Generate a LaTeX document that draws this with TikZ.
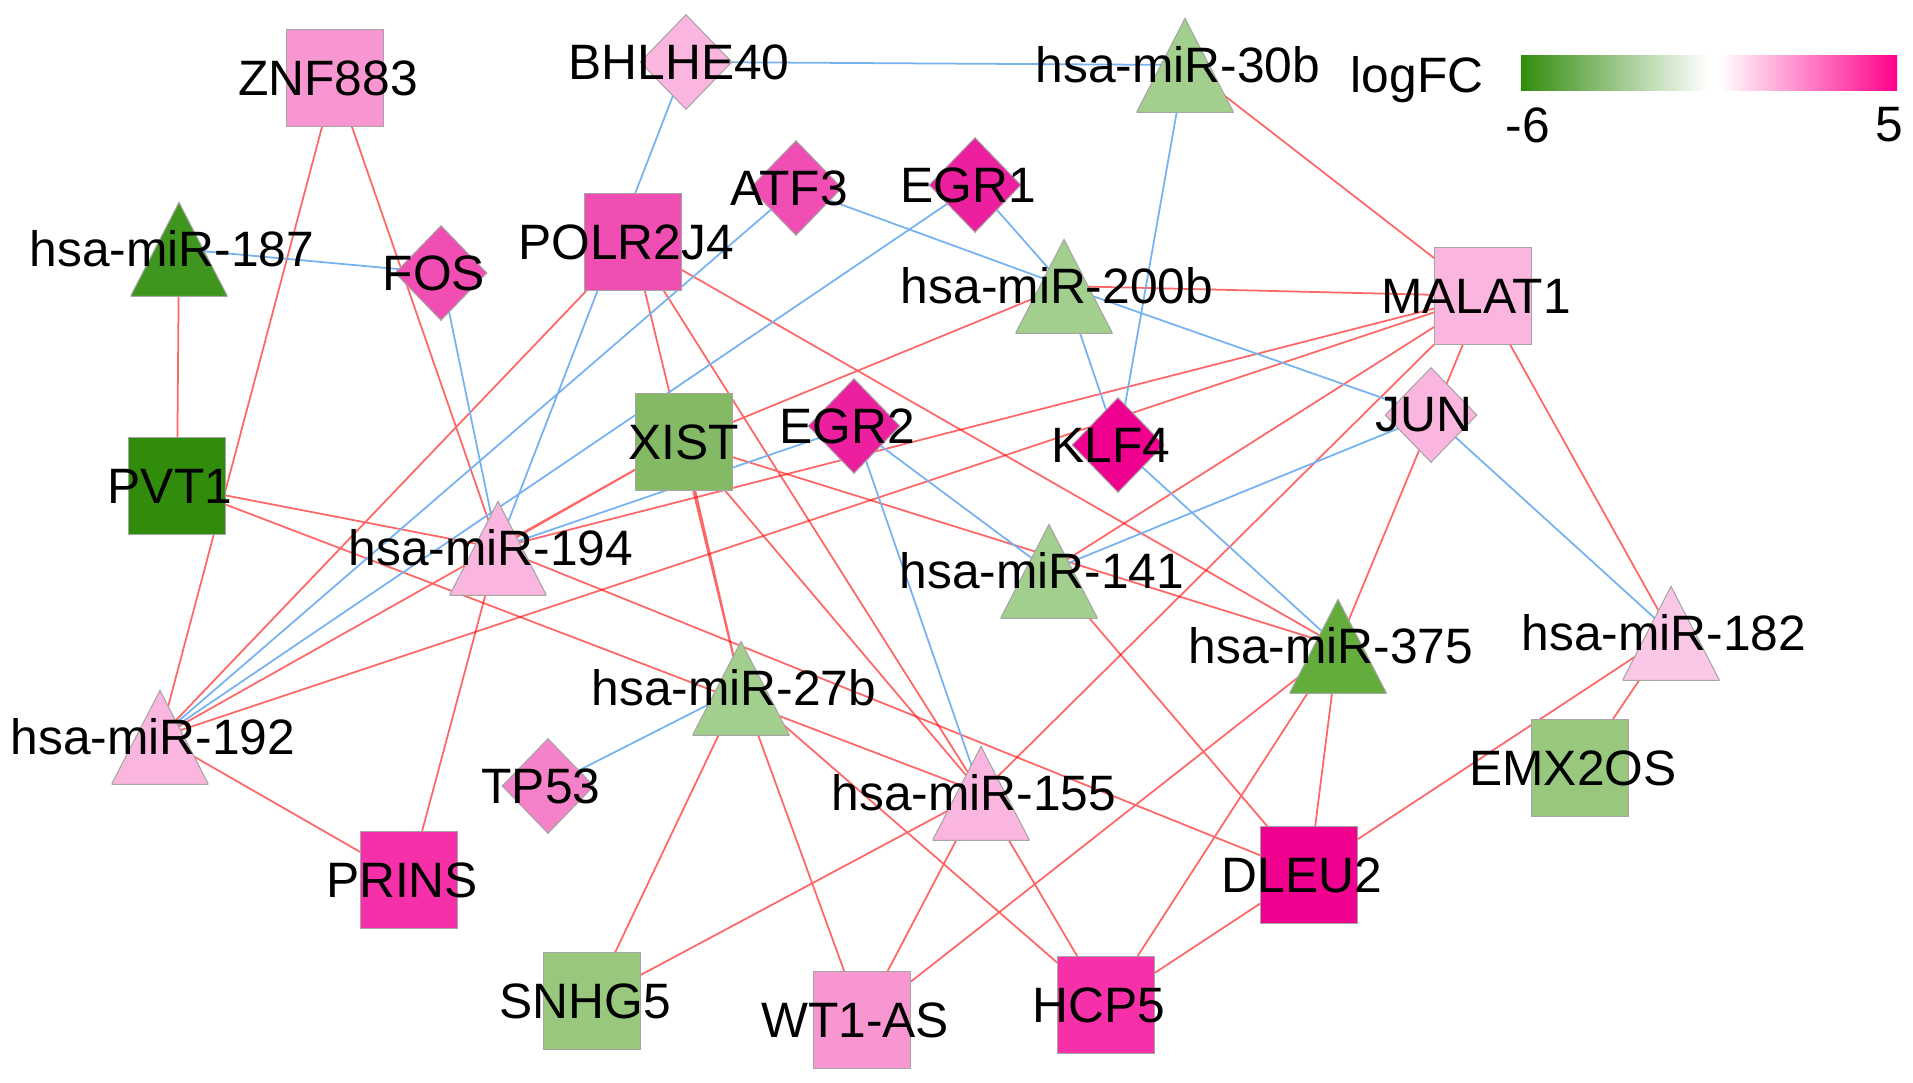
\documentclass[tikz,border=0pt]{standalone}
\usepackage{fontspec}
\setmainfont{Liberation Sans}
\usetikzlibrary{shapes.geometric,backgrounds}

\definecolor{pinkA}{RGB}{250,200,230}
\definecolor{pinkB}{RGB}{250,182,222}
\definecolor{pinkC}{RGB}{248,150,210}
\definecolor{pinkD}{RGB}{245,130,200}
\definecolor{pinkE}{RGB}{240,78,178}
\definecolor{pinkF}{RGB}{246,48,168}
\definecolor{pinkG}{RGB}{236,32,158}
\definecolor{pinkH}{RGB}{240,0,142}
\definecolor{greenA}{RGB}{162,206,142}
\definecolor{greenB}{RGB}{132,186,102}
\definecolor{greenF}{RGB}{152,200,126}
\definecolor{greenC}{RGB}{100,172,60}
\definecolor{greenD}{RGB}{62,150,30}
\definecolor{greenE}{RGB}{50,140,12}
\definecolor{nodeline}{RGB}{165,165,165}
\definecolor{edgeblue}{RGB}{118,178,240}
\definecolor{barpink}{RGB}{255,0,140}

\begin{document}
\begin{tikzpicture}[x=0.02cm,y=-0.02cm]
  \tikzset{lab/.style={font=\fontsize{28.3}{33}\selectfont,inner sep=0pt,xshift=-0.14cm}}
  \tikzset{sq/.style={rectangle,minimum size=1.94cm,inner sep=0pt,fill=#1,draw=nodeline,line width=.6pt}}
  \tikzset{dia/.style={diamond,minimum width=1.84cm,minimum height=1.9cm,inner sep=0pt,fill=#1,draw=nodeline,line width=.6pt}}
  \tikzset{tri/.style={rectangle,minimum width=1.94cm,minimum height=1.92cm,inner sep=0pt,
    path picture={\fill[#1,draw=nodeline,line width=.6pt]
      ([yshift=.4pt]path picture bounding box.south west) -- ([yshift=.4pt]path picture bounding box.south east)
      -- ([yshift=-.8pt]path picture bounding box.north) -- cycle;}}}
  \tikzset{redge/.style={draw=red,draw opacity=.6,line width=1pt}}
  \tikzset{bedge/.style={draw=edgeblue,line width=1pt}}
  \useasboundingbox (0,0) rectangle (1913,1082);

  % lncRNA
  \node(znf883)[sq=pinkC,label={[lab]center:ZNF883}] at (335,78) {};
  \node(polr2j4)[sq=pinkE,label={[lab]center:POLR2J4}] at (633,242) {};
  \node(malat1)[sq=pinkB,label={[lab]center:MALAT1}] at (1483,296) {};
  \node(pvt1)[sq=greenE,label={[lab]center:PVT1}] at (177,486) {};
  \node(xist)[sq=greenB,label={[lab,xshift=0.14cm]center:XIST}] at (684,442) {};
  \node(prins)[sq=pinkF,label={[lab]center:PRINS}] at (409,880) {};
  \node(emx2os)[sq=greenF,label={[lab]center:EMX2OS}] at (1580,768) {};
  \node(dleu2)[sq=pinkH,label={[lab]center:DLEU2}] at (1309,875) {};
  \node(snhg5)[sq=greenF,label={[lab]center:SNHG5}] at (592,1001) {};
  \node(wt1as)[sq=pinkC,label={[lab]center:WT1-AS}] at (862,1020) {};
  \node(hcp5)[sq=pinkF,label={[lab]center:HCP5}] at (1106,1005) {};
  % mRNA
  \node(bhlhe40)[dia=pinkB,label={[lab]center:BHLHE40}] at (686,62) {};
  \node(fos)[dia=pinkE,label={[lab]center:FOS}] at (441,273) {};
  \node(atf3)[dia=pinkE,label={[lab]center:ATF3}] at (796,188) {};
  \node(egr1)[dia=pinkG,label={[lab]center:EGR1}] at (975,185) {};
  \node(egr2)[dia=pinkG,label={[lab]center:EGR2}] at (854,426) {};
  \node(klf4)[dia=pinkH,label={[lab]center:KLF4}] at (1118,445) {};
  \node(jun)[dia=pinkB,label={[lab]center:JUN}] at (1431,415) {};
  \node(tp53)[dia=pinkD,label={[lab]center:TP53}] at (548,786) {};
  % miRNA
  \node(mir30b)[tri=greenA,label={[lab]center:hsa-miR-30b}] at (1185,65) {};
  \node(mir187)[tri=greenD,label={[lab]center:hsa-miR-187}] at (179,249) {};
  \node(mir200b)[tri=greenA,label={[lab]center:hsa-miR-200b}] at (1064,286) {};
  \node(mir194)[tri=pinkB,label={[lab]center:hsa-miR-194}] at (498,548) {};
  \node(mir141)[tri=greenA,label={[lab]center:hsa-miR-141}] at (1049,571) {};
  \node(mir375)[tri=greenC,label={[lab]center:hsa-miR-375}] at (1338,646) {};
  \node(mir182)[tri=pinkA,label={[lab]center:hsa-miR-182}] at (1671,633) {};
  \node(mir192)[tri=pinkB,label={[lab]center:hsa-miR-192}] at (160,737) {};
  \node(mir27b)[tri=greenA,label={[lab]center:hsa-miR-27b}] at (741,688) {};
  \node(mir155)[tri=pinkB,label={[lab]center:hsa-miR-155}] at (981,793) {};

  % logFC legend
  \node(lgdname)[lab] at (1424,80) {logFC};
  \shade[left color=greenE,right color=white] (1521,55) rectangle (1708,90);
  \shade[left color=white,right color=barpink] (1720,55) rectangle (1897,90);
  \node(lgdmin)[lab] at (1535,125) {-6};
  \node(lgdmax)[lab] at (1896,125) {5};

  \begin{pgfonlayer}{background}
  \draw[redge] (znf883.center) -- (mir192.center) (znf883.center) -- (mir194.center)
    (pvt1.center) -- (mir187.center) (pvt1.center) -- (mir194.center) (pvt1.center) -- (mir155.center)
    (polr2j4.center) -- (mir192.center) (polr2j4.center) -- (mir27b.center)
    (polr2j4.center) -- (mir155.center) (polr2j4.center) -- (mir375.center)
    (xist.center) -- (mir194.center) (xist.center) -- (mir192.center) (xist.center) -- (mir27b.center)
    (xist.center) -- (mir155.center) (xist.center) -- (mir375.center) (xist.center) -- (mir200b.center);
  \draw[redge] (malat1.center) -- (mir30b.center) (malat1.center) -- (mir200b.center)
    (malat1.center) -- (mir194.center) (malat1.center) -- (mir192.center)
    (malat1.center) -- (mir141.center) (malat1.center) -- (mir155.center)
    (malat1.center) -- (mir375.center) (malat1.center) -- (mir182.center);
  \draw[redge] (prins.center) -- (mir192.center) (prins.center) -- (mir194.center)
    (snhg5.center) -- (mir27b.center) (snhg5.center) -- (mir155.center)
    (wt1as.center) -- (mir27b.center) (wt1as.center) -- (mir155.center) (wt1as.center) -- (mir375.center)
    (hcp5.center) -- (mir27b.center) (hcp5.center) -- (mir155.center)
    (hcp5.center) -- (mir375.center) (hcp5.center) -- (mir182.center)
    (dleu2.center) -- (mir194.center) (dleu2.center) -- (mir141.center) (dleu2.center) -- (mir375.center)
    (emx2os.center) -- (mir182.center);
  \draw[bedge] (bhlhe40.center) -- (mir30b.center) (bhlhe40.center) -- (mir194.center)
    (fos.center) -- (mir187.center) (fos.center) -- (mir194.center)
    (atf3.center) -- (mir192.center) (atf3.center) -- (mir200b.center)
    (egr1.center) -- (mir200b.center) (egr1.center) -- (mir192.center)
    (klf4.center) -- (mir30b.center) (klf4.center) -- (mir200b.center) (klf4.center) -- (mir375.center)
    (jun.center) -- (mir200b.center) (jun.center) -- (mir141.center) (jun.center) -- (mir182.center)
    (egr2.center) -- (mir141.center) (egr2.center) -- (mir155.center) (egr2.center) -- (mir194.center)
    (tp53.center) -- (mir27b.center);
  \end{pgfonlayer}
\end{tikzpicture}
\end{document}
